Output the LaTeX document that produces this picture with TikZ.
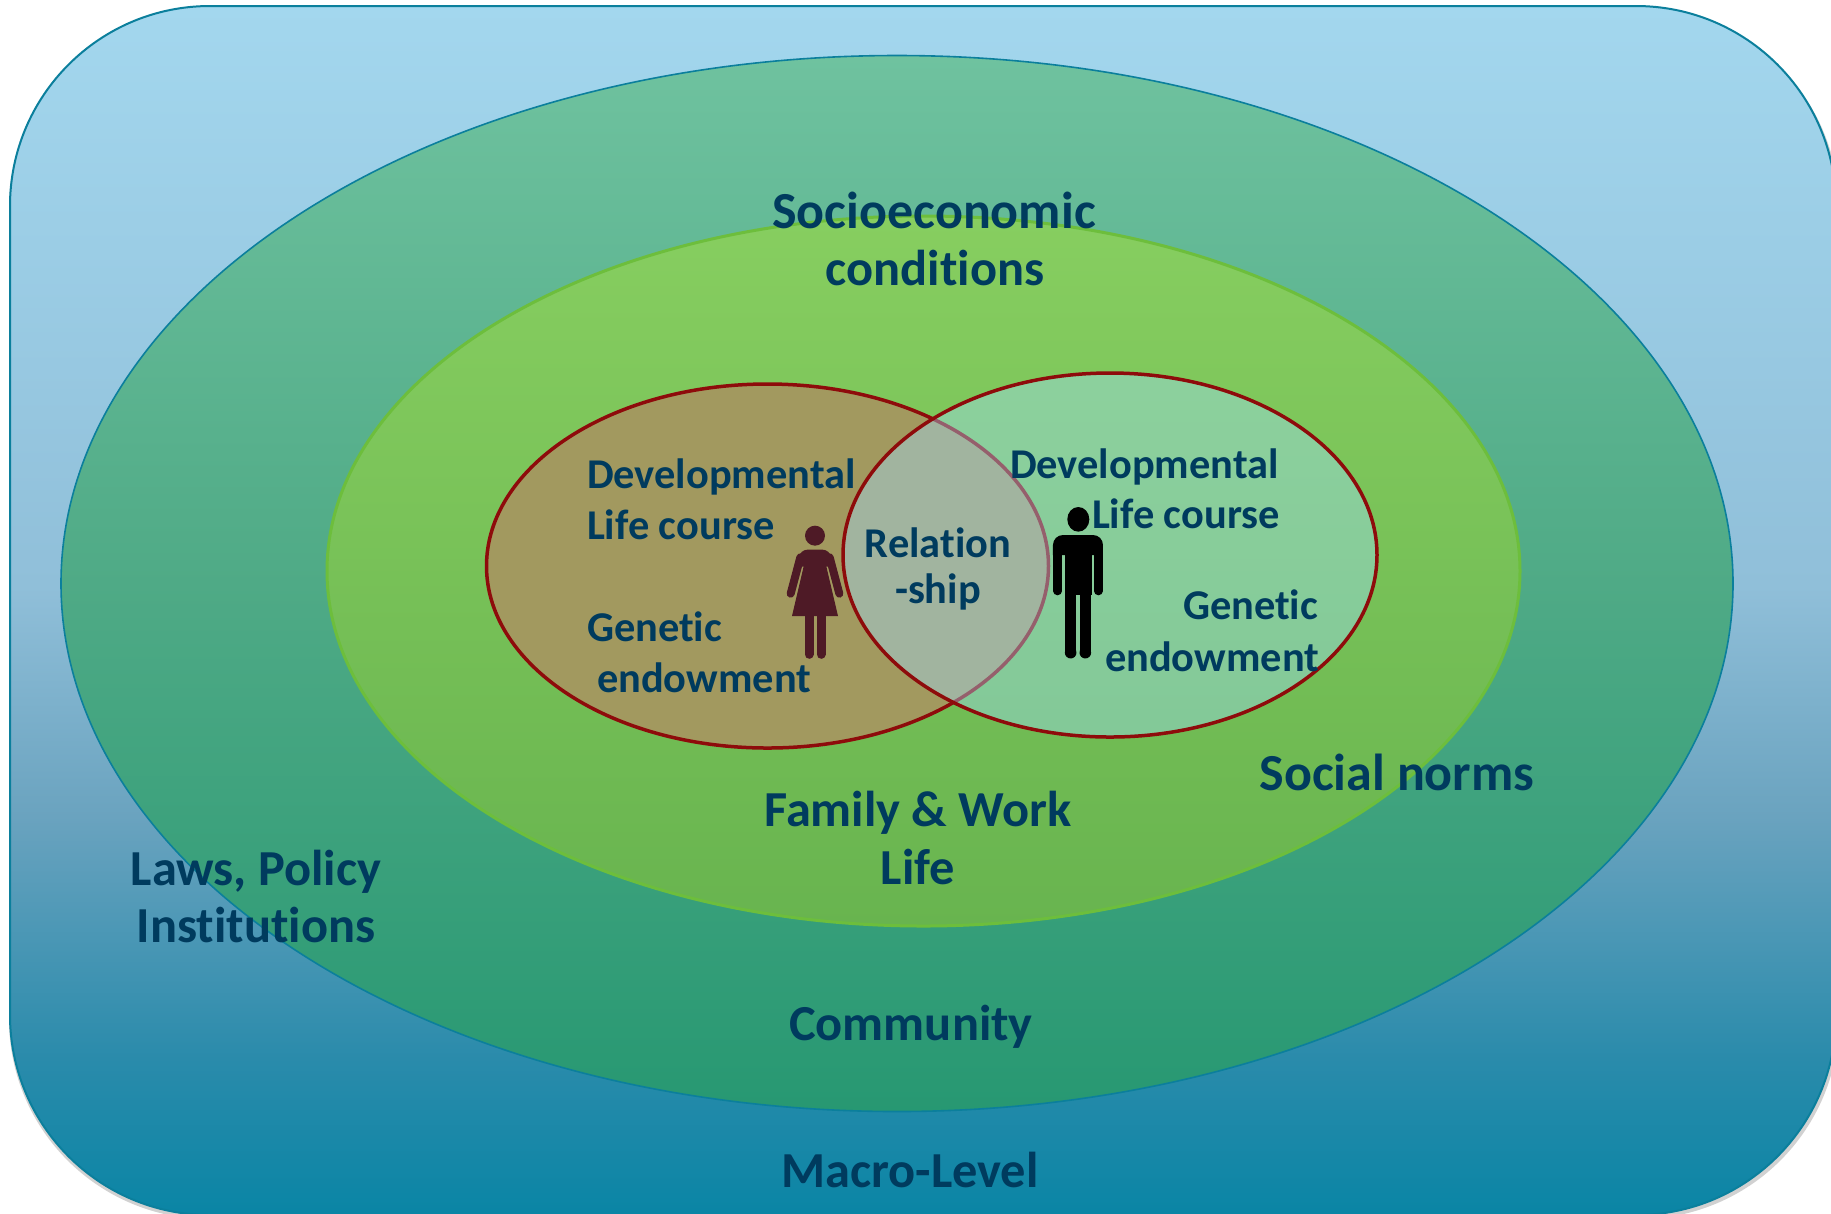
\documentclass[tikz,border=0pt]{standalone}
\usepackage{fontspec}
\setmainfont[RawFeature={-liga}]{Carlito}
\definecolor{ink}{HTML}{003B5E}
\definecolor{edgeteal}{HTML}{0B7F9C}
\definecolor{edgegreen}{HTML}{6DBE3C}
\definecolor{edgered}{HTML}{8E0B0B}
\definecolor{womanc}{HTML}{4E1A26}
\definecolor{brownfill}{HTML}{A2995F}
\definecolor{palefill}{HTML}{A0DEFF}
\pgfdeclareverticalshading{macroshade}{100bp}{
  rgb(0bp)=(0.039,0.522,0.647);
  rgb(25bp)=(0.039,0.522,0.647);
  rgb(31.5bp)=(0.165,0.545,0.671);
  rgb(41.5bp)=(0.416,0.639,0.749);
  rgb(51bp)=(0.565,0.749,0.851);
  rgb(75bp)=(0.639,0.843,0.933);
  rgb(100bp)=(0.639,0.843,0.933)}
\pgfdeclareverticalshading{commshade}{100bp}{
  rgb(0bp)=(0.153,0.596,0.447);
  rgb(25bp)=(0.153,0.596,0.447);
  rgb(50bp)=(0.310,0.667,0.525);
  rgb(75bp)=(0.435,0.761,0.624);
  rgb(100bp)=(0.435,0.761,0.624)}
\pgfdeclareverticalshading{famshade}{100bp}{
  rgb(0bp)=(0.408,0.706,0.310);
  rgb(25bp)=(0.408,0.706,0.310);
  rgb(75bp)=(0.529,0.808,0.376);
  rgb(100bp)=(0.529,0.808,0.376)}
\tikzset{
  big/.style={anchor=base,text=ink,align=center,font=\fontsize{12.6}{15}\selectfont\bfseries},
  wide/.style={anchor=base,text=ink,align=center,font=\fontsize{13}{15}\selectfont\bfseries},
  small/.style={anchor=base,text=ink,font=\fontsize{10.6}{12}\selectfont\bfseries},
  smallw/.style={small,anchor=base west},
  fig/.style={shift={(740,480)},x=0.08333pt,y=-0.08333pt},
}
\begin{document}
\begin{tikzpicture}[x=0.25pt,y=-0.25pt,inner sep=0pt,outer sep=0pt]
\useasboundingbox (0,0) rectangle (1831,1213);
\fill[white] (0,0) rectangle (1831,1213);
\begin{scope}
\clip (0,0) rectangle (1831,1213);
\fill[black!18,rounded corners=50pt] (9,9) rectangle (1839,1219);
\draw[edgeteal,line width=0.5pt,rounded corners=50pt,shading=macroshade] (10,6) rectangle (1836,1215);
\end{scope}
\draw[edgeteal,line width=0.4pt,shading=commshade] (897,583.5) ellipse [x radius=836,y radius=528];
\draw[edgegreen,line width=0.75pt,shading=famshade] (923.5,571) ellipse [x radius=596.5,y radius=355];
\draw[edgered,line width=0.875pt,fill=brownfill] (767.5,566) ellipse [x radius=281,y radius=182];
\fill[palefill,fill opacity=0.4] (1110,555) ellipse [x radius=267,y radius=182];
\draw[edgered,line width=0.875pt] (1110,555) ellipse [x radius=267,y radius=182];
% woman
\begin{scope}[fig,womanc]
\fill (225,167) circle [radius=30];
\fill[rounded corners=1.7pt] (225,209) -- (268,209) -- (282,260) -- (168,260) -- (182,209) -- cycle;
\draw[line width=2pt,line cap=round] (181,232) -- (152,341);
\draw[line width=2pt,line cap=round] (269,232) -- (298,341);
\fill (190,222) -- (260,222) -- (258,255) -- (294,408) -- (156,408) -- (192,255) -- cycle;
\draw[line width=2.25pt,line cap=round] (207,405) -- (207,523);
\draw[line width=2.25pt,line cap=round] (243,405) -- (243,523);
\end{scope}
% man
\begin{scope}[fig,black]
\fill (1015,118) ellipse [x radius=33,y radius=37];
\fill[rounded corners=2.5pt] (1014,165) -- (1089,165) [sharp corners] -- (1089,225) -- (939,225) [rounded corners=2.5pt] -- (939,165) -- cycle;
\fill (975,220) rectangle (1055,345);
\draw[line width=2.15pt,line cap=round] (953,220) -- (953,333);
\draw[line width=2.15pt,line cap=round] (1075,220) -- (1075,333);
\draw[line width=2.9pt,line cap=butt] (992,340) -- (992,518);
\draw[line width=2.9pt,line cap=butt] (1036,340) -- (1036,518);
\fill (992,518) circle [radius=17.4];
\fill (1036,518) circle [radius=17.4];
\end{scope}
% labels
\node[wide] (se1) at (934,228) {Socioeconomic};
\node[big] (se2) at (935,285) {conditions};
\node[big] (fw1) at (918,826) {Family \& Work};
\node[big] (fw2) at (918,884) {Life};
\node[wide] (sn) at (1397,790) {Social norms};
\node[big] (lp1) at (256,885) {Laws, Policy};
\node[big] (lp2) at (256,942) {Institutions};
\node[big] (cm) at (911,1040) {Community};
\node[big] (ml) at (910,1187) {Macro-Level};
\node[smallw] (ld) at (587,488) {Developmental};
\node[smallw] (ll) at (587,539) {Life course};
\node[smallw] (lg) at (587,641) {Genetic};
\node[smallw] (le) at (597,692) {endowment};
\node[smallw] (rd) at (1010,478) {Developmental};
\node[smallw] (rl) at (1092,528) {Life course};
\node[smallw] (rg) at (1183,619) {Genetic};
\node[smallw] (re) at (1105,671) {endowment};
\node[small] (r1) at (938,557) {Relation};
\node[small] (r2) at (938,603) {-ship};
\end{tikzpicture}
\end{document}
